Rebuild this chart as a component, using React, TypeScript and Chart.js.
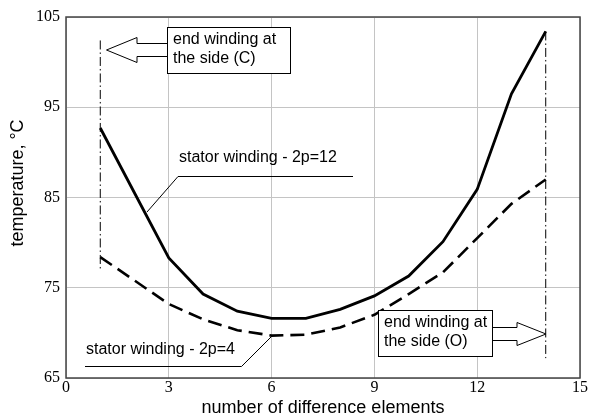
import React, { useEffect, useRef } from "react";
import { Chart, registerables } from "chart.js";

Chart.register(...registerables);

// number of difference elements
const elements = [1, 2, 3, 4, 5, 6, 7, 8, 9, 10, 11, 12, 13, 14];
// stator winding - 2p=12 (solid)
const temp2p12 = [92.7, 85.5, 78.3, 74.3, 72.4, 71.6, 71.6, 72.6, 74.1, 76.3, 80.1, 85.9, 96.5, 103.4];
// stator winding - 2p=4 (dashed)
const temp2p4 = [78.4, 75.8, 73.2, 71.5, 70.3, 69.7, 69.8, 70.6, 72.0, 74.3, 76.7, 80.5, 84.3, 87.0];
// end winding marker lines (x, yTop, yBottom)
const sideCX = 1;
const sideC = [102.4, 77.0];
const sideOX = 14;
const sideO = [103.4, 67.2];

const xTicks = [0, 3, 6, 9, 12, 15];
const yTicks = [65, 75, 85, 95, 105];

const SANS = '"Liberation Sans", Arial, Helvetica, sans-serif';
const SERIF = '"Liberation Serif", "Times New Roman", serif';

const decorPlugin = {
  id: "decor",
  afterDraw(chart: any) {
    const ctx = chart.ctx;
    const a = chart.chartArea;
    ctx.save();
    // plot border
    ctx.strokeStyle = "#444";
    ctx.lineWidth = 1.5;
    ctx.strokeRect(a.left, a.top, a.right - a.left, a.bottom - a.top);

    // y-axis title
    ctx.save();
    ctx.translate(18, 183);
    ctx.rotate(-Math.PI / 2);
    ctx.fillStyle = "#000";
    ctx.font = "18px " + SANS;
    ctx.textAlign = "center";
    ctx.textBaseline = "middle";
    ctx.fillText("temperature, °C", 0, 0);
    ctx.restore();

    ctx.lineWidth = 1;
    ctx.strokeStyle = "#000";
    ctx.fillStyle = "#000";
    ctx.font = "16px " + SANS;
    ctx.textBaseline = "middle";
    ctx.textAlign = "left";

    const poly = (pts: number[][]) => {
      ctx.beginPath();
      ctx.moveTo(pts[0][0], pts[0][1]);
      for (let i = 1; i < pts.length; i++) ctx.lineTo(pts[i][0], pts[i][1]);
      ctx.closePath();
      ctx.fillStyle = "#fff";
      ctx.fill();
      ctx.stroke();
    };
    const box = (x: number, y: number, w: number, h: number, l1: string, l2: string) => {
      ctx.fillStyle = "#fff";
      ctx.fillRect(x, y, w, h);
      ctx.strokeRect(x + 0.5, y + 0.5, w, h);
      ctx.fillStyle = "#000";
      ctx.fillText(l1, x + 6, y + 13);
      ctx.fillText(l2, x + 6, y + 32);
    };

    // arrow to side (C)
    poly([
      [167.5, 43.5], [137, 43.5], [137, 37.5], [106.5, 50], [137, 62.5], [137, 56.5], [167.5, 56.5],
    ]);
    box(167, 27, 123, 46, "end winding at", "the side (C)");

    // arrow to side (O)
    const tip = Math.round(chart.scales.x.getPixelForValue(sideOX));
    poly([
      [492, 327.5], [tip - 29, 327.5], [tip - 29, 322.5], [tip, 334], [tip - 29, 345.5], [tip - 29, 340.5], [492, 340.5],
    ]);
    box(378, 310, 114, 46, "end winding at", "the side (O)");

    // callout 2p=12
    ctx.fillStyle = "#000";
    ctx.fillText("stator winding - 2p=12", 179, 158);
    ctx.beginPath();
    ctx.moveTo(353, 176.5);
    ctx.lineTo(178, 176.5);
    ctx.lineTo(147, 212);
    ctx.stroke();

    // callout 2p=4
    ctx.fillText("stator winding - 2p=4", 86, 350);
    ctx.beginPath();
    ctx.moveTo(85, 366.5);
    ctx.lineTo(241.5, 366.5);
    ctx.lineTo(273, 335);
    ctx.stroke();

    ctx.restore();
  },
};

export default function App() {
  const ref = useRef<HTMLCanvasElement>(null);
  useEffect(() => {
    const chart = new Chart(ref.current!, {
      type: "scatter",
      data: {
        datasets: [
          {
            data: [
              { x: sideCX, y: sideC[0] },
              { x: sideCX, y: sideC[1] },
            ],
            showLine: true,
            borderColor: "#000",
            borderWidth: 1,
            borderDash: [9, 3, 1.5, 3],
            pointRadius: 0,
          },
          {
            data: [
              { x: sideOX, y: sideO[0] },
              { x: sideOX, y: sideO[1] },
            ],
            showLine: true,
            borderColor: "#000",
            borderWidth: 1,
            borderDash: [9, 3, 1.5, 3],
            pointRadius: 0,
          },
          {
            label: "stator winding - 2p=12",
            data: elements.map((x, i) => ({ x, y: temp2p12[i] })),
            showLine: true,
            borderColor: "#000",
            borderWidth: 2.8,
            pointRadius: 0,
            tension: 0,
          },
          {
            label: "stator winding - 2p=4",
            data: elements.map((x, i) => ({ x, y: temp2p4[i] })),
            showLine: true,
            borderColor: "#000",
            borderWidth: 2.6,
            borderDash: [14, 7],
            pointRadius: 0,
            tension: 0,
          },
        ],
      },
      options: {
        animation: false,
        responsive: false,
        layout: { padding: { top: 17, right: 10, left: 0, bottom: 0 } },
        plugins: { legend: { display: false }, tooltip: { enabled: false } },
        scales: {
          x: {
            type: "linear",
            min: xTicks[0],
            max: xTicks[xTicks.length - 1],
            afterBuildTicks: (s: any) => {
              s.ticks = xTicks.map((v) => ({ value: v }));
            },
            afterFit: (s: any) => {
              s.height = 42;
            },
            ticks: { color: "#000", font: { family: SERIF, size: 16 }, padding: 0, maxRotation: 0 },
            grid: { color: "#c4c4c4", lineWidth: 1, drawTicks: false },
            border: { display: false },
            title: {
              display: true,
              text: "number of difference elements",
              color: "#000",
              font: { family: SANS, size: 18 },
              padding: { top: 0, bottom: 1 },
            },
          },
          y: {
            type: "linear",
            min: yTicks[0],
            max: yTicks[yTicks.length - 1],
            afterBuildTicks: (s: any) => {
              s.ticks = yTicks.map((v) => ({ value: v }));
            },
            afterFit: (s: any) => {
              s.width = 66;
            },
            ticks: { color: "#000", font: { family: SERIF, size: 16 }, padding: 6 },
            grid: { color: "#c4c4c4", lineWidth: 1, drawTicks: false },
            border: { display: false },
            title: { display: false },
          },
        },
      },
      plugins: [decorPlugin],
    });
    return () => chart.destroy();
  }, []);
  return (
    <div style={{ position: "absolute", left: 0, top: 0, width: 590, height: 420 }}>
      <canvas ref={ref} width={590} height={420} />
    </div>
  );
}
